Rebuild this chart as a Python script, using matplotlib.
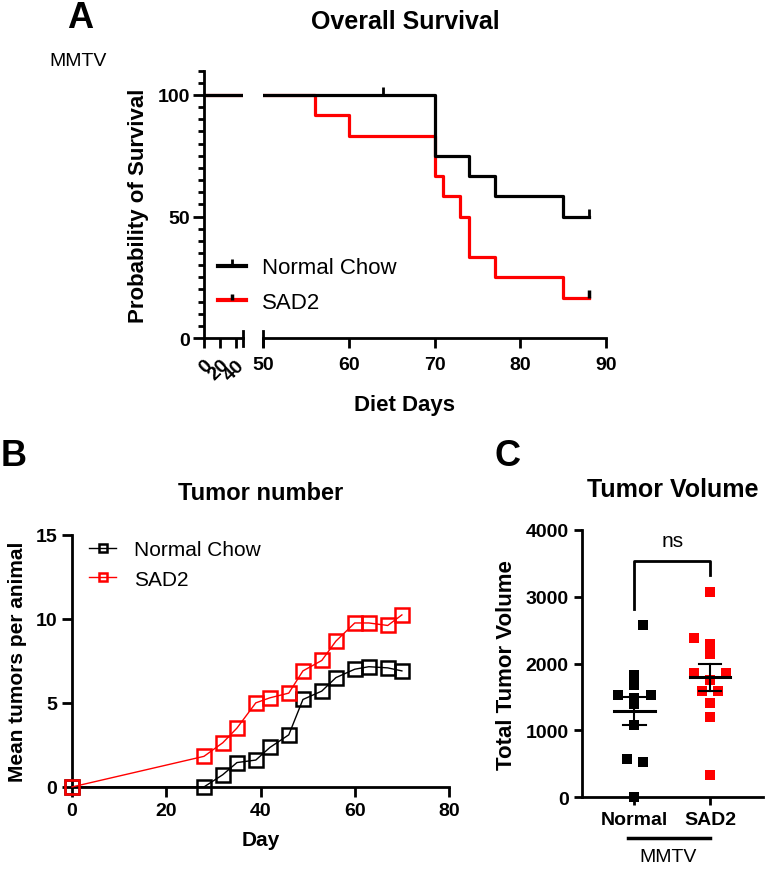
import matplotlib.pyplot as plt
import matplotlib.lines as mlines
import matplotlib.transforms as mtransforms
import numpy as np

plt.rcParams['font.family'] = ['Liberation Sans', 'DejaVu Sans']
plt.rcParams['axes.linewidth'] = 2.0

###  DATA  ###

# A: Kaplan-Meier survival (percent)
nc_days = [0, 70, 74, 77, 85, 88]
nc_surv = [100, 75, 66.67, 58.33, 50, 50]
nc_cens_days = [64, 88]
nc_cens_surv = [100, 50]

sad_days = [0, 56, 60, 70, 71, 73, 74, 77, 85, 88]
sad_surv = [100, 91.67, 83.33, 66.67, 58.33, 50, 33.33, 25, 16.67, 16.67]
sad_cens_days = [88]
sad_cens_surv = [16.67]

# B: mean tumors per animal
day = [0, 28, 32, 35, 39, 42, 46, 49, 53, 56, 60, 63, 67, 70]
tum_nc = [0, 0, 0.73, 1.45, 1.6, 2.35, 3.1, 5.2, 5.7, 6.5, 7.0, 7.15, 7.08, 6.9]
tum_sad = [0, 1.82, 2.63, 3.5, 5.0, 5.3, 5.58, 6.9, 7.52, 8.67, 9.75, 9.75, 9.6, 10.23]

# C: total tumor volume
vol_groups = ['Normal', 'SAD2']
vol_nc = [2578, 1830, 1680, 1530, 1530, 1490, 1390, 1083, 575, 533, 0]
vol_sad = [3077, 2388, 2294, 2145, 1860, 1860, 1758, 1595, 1595, 1411, 1206, 334]
jit_nc = [0.12, 0, 0, -0.21, 0.22, 0, 0, 0, -0.1, 0.11, 0]
jit_sad = [0, -0.21, 0, 0, -0.21, 0.21, 0, -0.1, 0.1, 0, 0, 0]

fig = plt.figure(figsize=(7.67, 8.7), dpi=100)
up_tick = [(0, 0), (0, 1)]

###  PANEL A  ###
ax1 = fig.add_axes([0.266, 0.6103, 0.0508, 0.3073])
ax2 = fig.add_axes([0.343, 0.6103, 0.447, 0.3073])
for ax in (ax1, ax2):
    ax.step(sad_days, sad_surv, where='post', color='#ff0000', lw=2.3)
    ax.step(nc_days, nc_surv, where='post', color='k', lw=2.3)
    ax.plot(nc_cens_days, nc_cens_surv, ls='none', marker=up_tick, ms=12,
            mec='k', mew=2)
    ax.plot(sad_cens_days, sad_cens_surv, ls='none', marker=up_tick, ms=12,
            mec='k', mew=2.5)
    ax.set_ylim(0, 110)
    ax.spines['top'].set_visible(False)
    ax.spines['right'].set_visible(False)
    ax.tick_params(labelsize=14, width=2, length=7)
    ax.tick_params(axis='x', pad=6)

ax1.set_xlim(0, 48.75)
ax1.set_xticks([0, 20, 40])
ax1.set_xticklabels(['0', '20', '40'], rotation=45, ha='right',
                    rotation_mode='anchor', fontweight='bold')
ax1.set_yticks([0, 50, 100])
ax1.set_yticklabels(['0', '50', '100'], fontweight='bold')
ax1.set_yticks(np.arange(0, 111, 5), minor=True)
ax1.tick_params(axis='y', which='major', length=8, pad=2)
ax1.tick_params(axis='y', which='minor', length=4, width=2)
ax1.set_ylabel('Probability of Survival', fontsize=16, fontweight='bold',
               labelpad=6)
ax1.plot([48.75, 48.75], [-0.028, 0.028], color='k', lw=2,
         transform=ax1.get_xaxis_transform(), clip_on=False)

ax2.spines['left'].set_visible(False)
ax2.set_xlim(50, 90)
ax2.set_yticks([])
ax2.set_xticks([50, 60, 70, 80, 90])
ax2.set_xticklabels(['50', '60', '70', '80', '90'], fontweight='bold')
ax2.plot([50, 50], [-0.028, 0.028], color='k', lw=2,
         transform=ax2.get_xaxis_transform(), clip_on=False)

fig.text(405 / 767, 1 - 406 / 870, 'Diet Days', fontsize=16, fontweight='bold',
         ha='center', va='center')
fig.text(0.528, 1 - 22 / 870, 'Overall Survival', fontsize=18,
         fontweight='bold', ha='center', va='center')
fig.text(80 / 767, 1 - 19 / 870, 'A', fontsize=26, fontweight='bold',
         ha='center', va='center')
fig.text(78 / 767, 1 - 62 / 870, 'MMTV', fontsize=14, ha='center',
         va='center')

h_nc = mlines.Line2D([], [], color='k', lw=3, marker=up_tick, ms=10,
                     mec='k', mew=2)
h_sad = mlines.Line2D([], [], color='#ff0000', lw=3, marker=up_tick, ms=8,
                      mec='k', mew=2.5)
fig.legend([h_nc, h_sad], ['Normal Chow', 'SAD2'], loc='center left',
           bbox_to_anchor=(218 / 767, 1 - 286 / 870), frameon=False,
           fontsize=16, handlelength=1.25, handletextpad=0.75,
           labelspacing=0.6, borderpad=0, borderaxespad=0, numpoints=1)

###  PANEL B  ###
axb = fig.add_axes([0.0939, 0.0943, 0.4915, 0.2900])
axb.plot(day, tum_nc, color='k', lw=1.0, marker='s', ms=9.5, mfc='none',
         mec='k', mew=1.8, clip_on=False, zorder=3, label='Normal Chow')
axb.plot(day, tum_sad, color='#ff0000', lw=1.0, marker='s', ms=9.5,
         mfc='none', mec='#ff0000', mew=1.8, clip_on=False, zorder=3,
         label='SAD2')
axb.set_xlim(0, 80)
axb.set_ylim(0, 15)
axb.set_xticks([0, 20, 40, 60, 80])
axb.set_yticks([0, 5, 10, 15])
axb.spines['top'].set_visible(False)
axb.spines['right'].set_visible(False)
axb.tick_params(labelsize=14, width=2, length=7)
for t in axb.get_xticklabels() + axb.get_yticklabels():
    t.set_fontweight('bold')
axb.set_xlabel('Day', fontsize=15, fontweight='bold', labelpad=8)
axb.set_ylabel('Mean tumors per animal', fontsize=15, fontweight='bold',
               labelpad=6)
fig.legend(*axb.get_legend_handles_labels(), loc='center left',
           bbox_to_anchor=(89 / 767, 1 - 565.5 / 870), frameon=False,
           fontsize=15, handlelength=1.3, handletextpad=0.85,
           labelspacing=0.5, borderpad=0, borderaxespad=0, numpoints=1,
           markerscale=0.6)
fig.text(261 / 767, 1 - 494 / 870, 'Tumor number', fontsize=17,
         fontweight='bold', ha='center', va='center')
fig.text(1 / 767, 1 - 456 / 870, 'B', fontsize=26, fontweight='bold',
         ha='left', va='center')

###  PANEL C  ###
axc = fig.add_axes([0.7588, 0.0824, 0.2360, 0.3073])
for i, (vals, jit, col) in enumerate([(vol_nc, jit_nc, 'k'),
                                      (vol_sad, jit_sad, '#ff0000')]):
    vals = np.array(vals, dtype=float)
    axc.scatter(i + np.array(jit), vals, marker='s', s=60, color=col,
                zorder=3, clip_on=False, linewidths=0)
    m = vals.mean()
    sem = vals.std(ddof=1) / np.sqrt(len(vals))
    axc.plot([i - 0.27, i + 0.27], [m, m], color='k', lw=2.2, zorder=4)
    axc.plot([i, i], [m - sem, m + sem], color='k', lw=1.5, zorder=4)
    axc.plot([i - 0.15, i + 0.15], [m + sem, m + sem], color='k', lw=1.5,
             zorder=4)
    axc.plot([i - 0.15, i + 0.15], [m - sem, m - sem], color='k', lw=1.5,
             zorder=4)

axc.plot([0, 0, 1, 1], [2820, 3530, 3530, 3320], color='k', lw=2)
axc.text(0.5, 3700, 'ns', fontsize=15, ha='center', va='bottom')
axc.set_xlim(-0.69, 1.7)
axc.set_ylim(0, 4000)
axc.set_xticks([0, 1])
axc.set_xticklabels(vol_groups, fontweight='bold')
axc.set_yticks([0, 1000, 2000, 3000, 4000])
axc.spines['top'].set_visible(False)
axc.spines['right'].set_visible(False)
axc.tick_params(labelsize=14, width=2, length=6)
for t in axc.get_xticklabels() + axc.get_yticklabels():
    t.set_fontweight('bold')
axc.set_ylabel('Total Tumor Volume', fontsize=16, fontweight='bold',
               labelpad=6)
blend = mtransforms.blended_transform_factory(axc.transData, axc.transAxes)
axc.plot([-0.08, 1.0], [-0.153, -0.153], color='k', lw=2.5,
         transform=blend, clip_on=False)
fig.text(668 / 767, 1 - 858 / 870, 'MMTV', fontsize=14, ha='center',
         va='center')
fig.text(673 / 767, 1 - 490 / 870, 'Tumor Volume', fontsize=18,
         fontweight='bold', ha='center', va='center')
fig.text(508 / 767, 1 - 457 / 870, 'C', fontsize=26, fontweight='bold',
         ha='center', va='center')

fig.savefig('out.png', dpi=100)
